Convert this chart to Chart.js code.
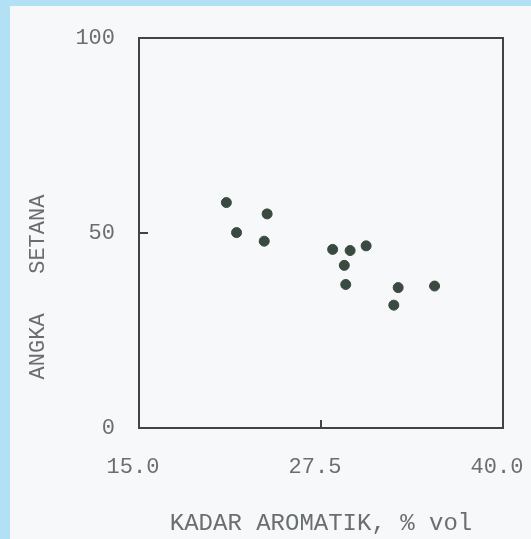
<!DOCTYPE html>
<html>
<head>
<meta charset="utf-8">
<script src="https://cdn.jsdelivr.net/npm/chart.js@4/dist/chart.umd.min.js"></script>
<style>
  body { margin: 0; background: #f6f8f9; }
  canvas { display: block; }
</style>
</head>
<body>
<canvas id="scatterChart" width="531" height="539"></canvas>
<script>
// Data
const aromatik = [21.0, 23.8, 21.7, 23.6, 28.3, 29.5, 30.6, 29.1, 29.2, 32.8, 35.3, 32.5];
const angkaSetana = [57.8, 54.9, 50.1, 47.9, 45.8, 45.5, 46.7, 41.7, 36.8, 36.0, 36.4, 31.5];
const xTicks = [15.0, 27.5, 40.0];
const yTicks = [0, 50, 100];

const xTitle = 'KADAR AROMATIK, % vol';
const yTitle = 'ANGKA   SETANA';

const lineColor = '#3f4542';
const textColor = '#6a6f6d';
const monoFont = "'Liberation Mono', 'DejaVu Sans Mono', monospace";

// Paper background + the blue scan border
const paperPlugin = {
  id: 'paper',
  beforeDraw(chart) {
    const ctx = chart.ctx;
    ctx.save();
    ctx.fillStyle = '#f6f8f9';
    ctx.fillRect(0, 0, chart.width, chart.height);
    ctx.fillStyle = '#b2e0f4';
    ctx.fillRect(0, 0, 10, chart.height);
    ctx.fillRect(0, 0, chart.width, 6);
    ctx.restore();
  }
};

// Closed box around the plot with small inward tick marks
const boxPlugin = {
  id: 'box',
  beforeDatasetsDraw(chart) {
    const { ctx, chartArea: a, scales } = chart;
    ctx.save();
    ctx.strokeStyle = lineColor;
    ctx.lineWidth = 2;
    ctx.strokeRect(a.left, a.top, a.right - a.left, a.bottom - a.top);

    ctx.beginPath();
    xTicks.forEach(v => {
      const x = scales.x.getPixelForValue(v);
      ctx.moveTo(x, a.bottom);
      ctx.lineTo(x, a.bottom - 8);
    });
    yTicks.forEach(v => {
      const y = scales.y.getPixelForValue(v);
      ctx.moveTo(a.left, y);
      ctx.lineTo(a.left + 9, y);
    });
    ctx.stroke();
    ctx.restore();
  },
  afterDraw(chart) {
    // rotated y axis title, placed like the original typewritten label
    const ctx = chart.ctx;
    ctx.save();
    ctx.translate(38, 287);
    ctx.rotate(-Math.PI / 2);
    ctx.font = '22px ' + monoFont;
    ctx.fillStyle = textColor;
    ctx.textAlign = 'center';
    ctx.textBaseline = 'middle';
    ctx.fillText(yTitle, 0, 0);
    ctx.restore();
  }
};

const points = aromatik.map((x, i) => ({ x: x, y: angkaSetana[i] }));

new Chart(document.getElementById('scatterChart'), {
  type: 'scatter',
  data: {
    datasets: [{
      data: points,
      backgroundColor: '#3b4a40',
      borderColor: '#3b4a40',
      pointRadius: 5,
      pointHoverRadius: 5
    }]
  },
  options: {
    responsive: false,
    animation: false,
    layout: { padding: { top: 38, right: 0, left: 0, bottom: 0 } },
    plugins: {
      legend: { display: false },
      tooltip: { enabled: false }
    },
    scales: {
      x: {
        type: 'linear',
        min: 15,
        max: 40,
        afterBuildTicks: scale => { scale.ticks = xTicks.map(v => ({ value: v })); },
        afterFit: scale => {
          scale.height = 111;
          scale.paddingRight = 28; // leave the last label hanging past the box like the scan
        },
        grid: { display: false, drawTicks: false },
        border: { display: false },
        ticks: {
          padding: 26,
          labelOffset: -6,
          maxRotation: 0,
          autoSkip: false,
          color: textColor,
          font: { family: monoFont, size: 22 },
          callback: v => Number(v).toFixed(1)
        },
        title: {
          display: true,
          text: xTitle,
          color: textColor,
          font: { family: monoFont, size: 24 },
          padding: { top: 0, bottom: 1 }
        }
      },
      y: {
        type: 'linear',
        min: 0,
        max: 100,
        afterBuildTicks: scale => { scale.ticks = yTicks.map(v => ({ value: v })); },
        afterFit: scale => { scale.width = 139; },
        grid: { display: false, drawTicks: false },
        border: { display: false },
        ticks: {
          padding: 24,
          color: textColor,
          font: { family: monoFont, size: 22 }
        }
      }
    }
  },
  plugins: [paperPlugin, boxPlugin]
});
</script>
</body>
</html>
